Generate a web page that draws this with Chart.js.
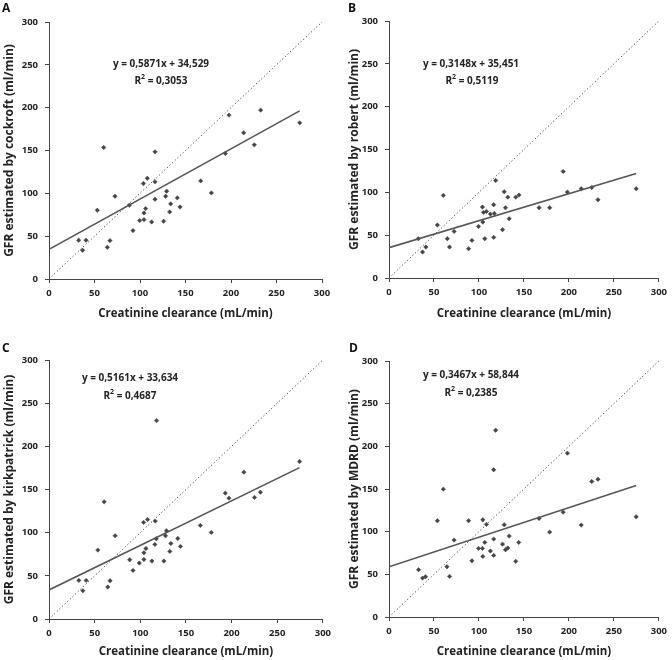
<!DOCTYPE html>
<html><head><meta charset="utf-8">
<script src="https://cdn.jsdelivr.net/npm/chart.js@4.4.0/dist/chart.umd.min.js"></script>
<style>
html,body{margin:0;padding:0;background:#fff;}
#wrap{position:relative;width:672px;height:660px;overflow:hidden;font-family:"Open Sans","DejaVu Sans",sans-serif;}
.panel{position:absolute;width:336px;height:330px;}
.panel canvas{position:absolute;left:0;top:0;}
.letter{position:absolute;font-weight:bold;font-size:12px;line-height:1;color:#111;}
.eq{position:absolute;font-weight:bold;font-size:10px;line-height:1;color:#222;transform:translate(-50%,-50%);white-space:nowrap;}
.eq sup{font-size:7px;vertical-align:top;position:relative;top:-2px;}
</style></head><body>
<div id="wrap"></div>
<script>
// ---- data ----
const panelLetters = ['A', 'B', 'C', 'D'];
const yTitles = ['GFR estimated by cockroft (ml/min)', 'GFR estimated by robert (ml/min)',
                 'GFR estimated by kirkpatrick (ml/min)', 'GFR estimated by MDRD (ml/min)'];
const xTitle = 'Creatinine clearance (mL/min)';
const axisTicks = [0, 50, 100, 150, 200, 250, 300];

const clearanceA = [32.6,37,40.7,53.1,60.1,64.1,67,72.5,88.3,92.3,99.6,103.7,104.4,104.4,106.2,108,112.8,116.5,116.5,116.5,126,128.2,129.3,132.6,133.7,141,144,166.7,178.4,193.8,197.8,213.9,225.6,232.6,275.5];
const cockcroft  = [45.2,33.5,45.2,80.3,153.5,37,44.8,96.6,86.1,56.5,68.2,111.4,69.3,77.1,82.2,117.6,66.6,148.4,113.4,93.1,67.4,96.6,102.5,78.3,87.7,94.7,84.1,114.5,100.5,146.5,191.3,170.6,156.6,197.1,182.3];

const clearanceB = [32.6,37.3,41,53.8,60.4,64.8,67.3,72.4,88.5,92.2,99.5,103.9,104.3,105,106.5,108.3,112.7,116.4,117.1,116.4,118.6,126.2,128.1,129.5,132.1,133.6,140.9,144.5,166.8,178.6,193.6,198.3,213.7,225.4,232.3,274.8];
const robert     = [45.9,30.3,36.1,61.8,96.4,45.9,36.1,54.4,34.2,43.9,60.2,82.8,65.3,76.6,45.9,77.7,74.6,85.5,75.4,47.4,113.9,56.4,100.7,82,94.4,69.2,94.4,96.8,82,82,124.4,100.3,104.2,105.7,91.3,104.2];

const clearanceC = [32.7,37.1,40.7,53.5,60.4,64.4,66.9,72.4,88.4,92,98.9,103.6,104,104,106.2,108,112.7,117.8,116.4,116,117.5,125.8,127.6,128.7,132.4,133.5,141.1,144,165.8,177.8,193.1,197.1,213.5,225.1,231.6,274.5];
const kirkpatrick= [44.7,32.8,44.7,79.8,135.7,37,44.3,96.4,68.6,56.3,64.8,111.9,76.7,69,81.7,115.3,67.1,229.8,113.4,86.4,92.9,67.1,96.4,102.2,78.3,87.5,93.3,84.1,108.4,100.3,145.8,140,170.1,140.8,146.9,182.4];

const clearanceD = [32.9,37.3,40.6,53.8,60.4,64.4,67.3,72.4,88.5,92.2,99.5,103.9,104.3,104.3,106.5,108.3,112.7,116.4,116.4,116.4,118.6,126.2,128.1,129.5,132.1,133.6,140.9,144.2,166.8,178.6,193.6,198.3,213.7,225.4,232.3,274.8];
const mdrd       = [55.4,45.6,47.2,112.8,149.8,58.9,47.6,90.1,112.8,65.9,80.4,80.4,113.9,71,87.4,108.5,77.3,172.5,91.3,72.2,218.9,85.4,108.1,78.8,80.8,94.8,65.2,87.4,115.5,99.5,122.9,192,107.7,158.8,161.5,117.4];

const slopes     = [0.5871, 0.3148, 0.5161, 0.3467];
const intercepts = [34.529, 35.451, 33.634, 58.844];
const equationTexts = ['y = 0,5871x + 34,529', 'y = 0,3148x + 35,451', 'y = 0,5161x + 33,634', 'y = 0,3467x + 58,844'];
const r2Texts = ['0,3053', '0,5119', '0,4687', '0,2385'];

const xSeries = [clearanceA, clearanceB, clearanceC, clearanceD];
const ySeries = [cockcroft, robert, kirkpatrick, mdrd];

// ---- layout / style ----
const layouts = [
  {left:0,   top:0,   padL:0, yW:49, padT:22, padR:14, xH:51, xTitlePad:9, letter:[2,2],  eq:[161,63], r2:[161,80]},
  {left:336, top:0,   padL:9, yW:44, padT:21, padR:9,  xH:52, xTitlePad:9, letter:[12,2], eq:[135,63], r2:[136,80]},
  {left:0,   top:330, padL:0, yW:49, padT:30, padR:12, xH:41, xTitlePad:1, letter:[2,12], eq:[130,47], r2:[130,65]},
  {left:336, top:330, padL:9, yW:44, padT:31, padR:9,  xH:43, xTitlePad:1, letter:[13,12],eq:[135,44], r2:[135,62]}
];
const INK = '#222';
const FONT = '"Open Sans", "DejaVu Sans", sans-serif';

const wrap = document.getElementById('wrap');
layouts.forEach((L, i) => {
  const panel = document.createElement('div');
  panel.className = 'panel';
  panel.style.left = L.left + 'px';
  panel.style.top = L.top + 'px';
  const cv = document.createElement('canvas');
  cv.width = 336; cv.height = 330;
  cv.style.width = '336px'; cv.style.height = '330px';
  panel.appendChild(cv);
  wrap.appendChild(panel);

  const pts = xSeries[i].map((x, k) => ({x: x, y: ySeries[i][k]}));
  const xEnd = Math.max(...xSeries[i]);
  const regLine = [{x: 0, y: intercepts[i]}, {x: xEnd, y: slopes[i] * xEnd + intercepts[i]}];
  const identity = [{x: axisTicks[0], y: axisTicks[0]}, {x: axisTicks[axisTicks.length-1], y: axisTicks[axisTicks.length-1]}];

  new Chart(cv, {
    type: 'scatter',
    data: {
      datasets: [
        {data: identity, type: 'line', showLine: true, borderColor: '#444', borderWidth: 1,
         borderDash: [1.2, 2.4], pointRadius: 0, fill: false},
        {data: regLine, type: 'line', showLine: true, borderColor: '#555', borderWidth: 1.6,
         pointRadius: 0, fill: false},
        {data: pts, pointStyle: 'rectRot', pointRadius: 2.2, backgroundColor: '#444',
         borderColor: '#444', borderWidth: 0.5}
      ]
    },
    options: {
      responsive: false, animation: false, devicePixelRatio: 1,
      layout: {padding: {left: L.padL, top: L.padT, right: L.padR, bottom: 0}},
      plugins: {legend: {display: false}, tooltip: {enabled: false}},
      scales: {
        x: {
          type: 'linear', min: axisTicks[0], max: axisTicks[axisTicks.length-1],
          afterBuildTicks: s => { s.ticks = axisTicks.map(v => ({value: v})); },
          afterFit: s => { s.height = L.xH; },
          ticks: {color: INK, font: {family: FONT, size: 9.5, weight: 'bold'}, padding: 5, maxRotation: 0},
          grid: {drawOnChartArea: false, drawTicks: true, tickLength: 4, color: '#444'},
          border: {display: true, color: '#444', width: 1},
          title: {display: true, text: xTitle, color: INK, font: {family: FONT, size: 11.5, weight: 'bold'},
                  padding: {top: 0, bottom: L.xTitlePad}}
        },
        y: {
          type: 'linear', min: axisTicks[0], max: axisTicks[axisTicks.length-1],
          afterBuildTicks: s => { s.ticks = axisTicks.map(v => ({value: v})); },
          afterFit: s => { s.width = L.yW; },
          ticks: {color: INK, font: {family: FONT, size: 9.5, weight: 'bold'}, padding: 7},
          grid: {drawOnChartArea: false, drawTicks: true, tickLength: 4, color: '#444'},
          border: {display: true, color: '#444', width: 1},
          title: {display: true, text: yTitles[i], color: INK, font: {family: FONT, size: 12, weight: 'bold'},
                  padding: {top: 2, bottom: 0}}
        }
      }
    }
  });

  const letter = document.createElement('div');
  letter.className = 'letter';
  letter.textContent = panelLetters[i];
  letter.style.left = L.letter[0] + 'px';
  letter.style.top = L.letter[1] + 'px';
  panel.appendChild(letter);

  const eq = document.createElement('div');
  eq.className = 'eq';
  eq.textContent = equationTexts[i];
  eq.style.left = L.eq[0] + 'px';
  eq.style.top = L.eq[1] + 'px';
  panel.appendChild(eq);

  const r2 = document.createElement('div');
  r2.className = 'eq';
  r2.innerHTML = 'R<sup>2</sup> = ' + r2Texts[i];
  r2.style.left = L.r2[0] + 'px';
  r2.style.top = L.r2[1] + 'px';
  panel.appendChild(r2);
});
</script>
</body></html>
